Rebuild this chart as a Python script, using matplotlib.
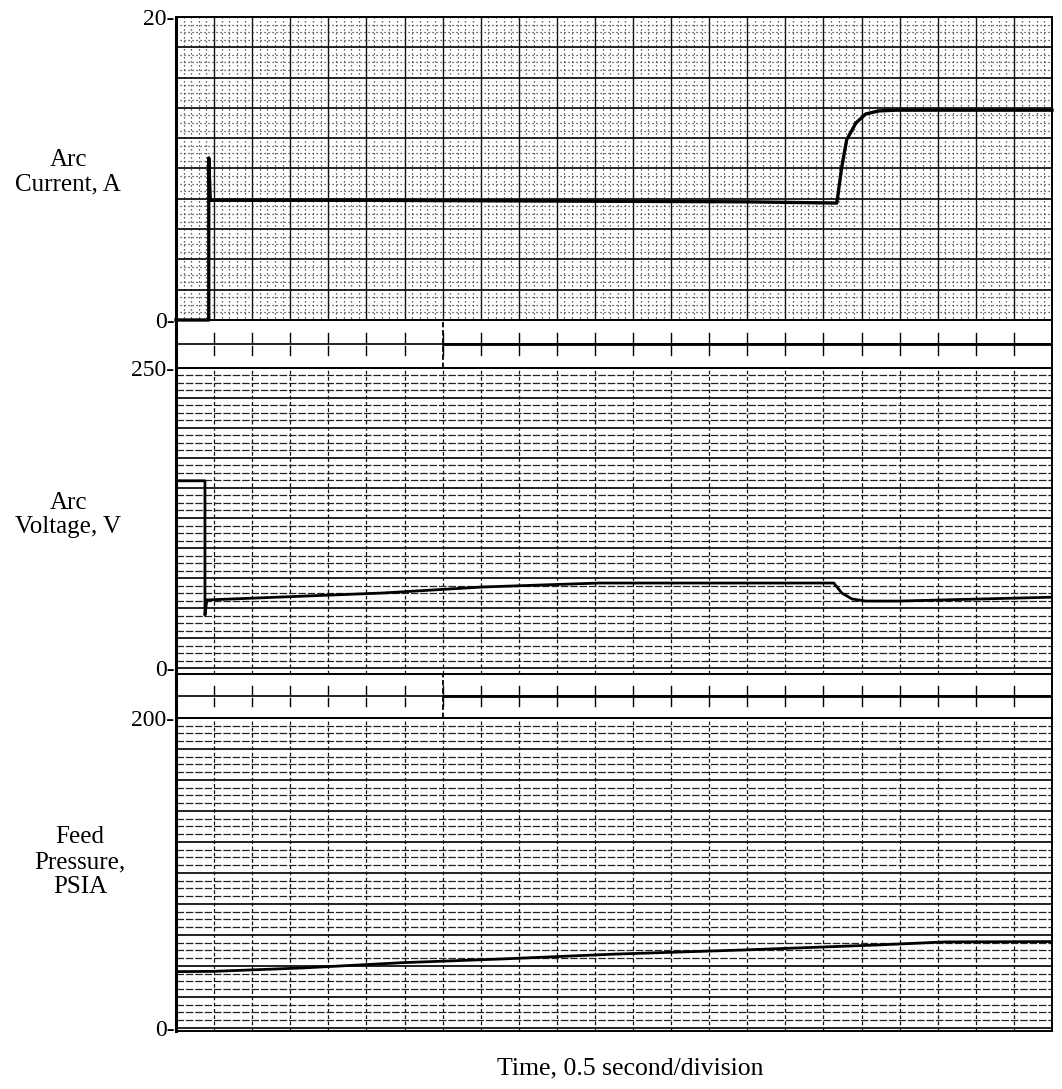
import numpy as np
import matplotlib
matplotlib.use('Agg')
import matplotlib.pyplot as plt

# trace data, time in chart divisions (0.5 s each)
cur_t = [0, 0.86, 0.86, 0.90, 5.0, 10.0, 15.0, 17.35, 17.48, 17.61, 17.85, 18.11, 18.45, 18.9, 23]
cur_a = [0, 0, 10.7, 7.9, 7.9, 7.85, 7.8, 7.72, 10.1, 11.9, 13.0, 13.6, 13.8, 13.85, 13.85]

volt_t = [0, 0.76, 0.76, 0.81, 5.43, 8.05, 11.11, 17.27, 17.48, 17.75, 18.11, 18.98, 23]
volt_v = [156, 156, 44, 56.7, 62.5, 67.5, 70.8, 70.8, 62.5, 57.5, 55.8, 55.8, 59]

pres_t = [0, 1.0, 3.33, 5.95, 8.57, 11.5, 14.9, 18.4, 20.2, 23]
pres_p = [36.3, 36.5, 38.7, 42.1, 44.5, 47.6, 50.3, 53.5, 55.5, 55.7]

n_div = 23
mark_div = 7

W, H = 1062, 1089
X0, X1 = 176, 1052

plt.rcParams['font.family'] = ['Liberation Serif', 'DejaVu Serif']

fig = plt.figure(figsize=(W / 100, H / 100), dpi=100)


def px_axes(y_top, y_bot):
    return fig.add_axes([X0 / W, 1 - y_bot / H, (X1 - X0) / W, (y_bot - y_top) / H])


def chart_grid(ax, ytop, dotted):
    ax.set_xlim(0, n_div)
    step = ytop / 10
    for d in range(n_div + 1):
        if dotted:
            ax.axvline(d, color='#111111', lw=1.0, zorder=1)
        else:
            ax.axvline(d, color='#111111', lw=0.9, ls=(0, (3, 2)), zorder=1)
    if dotted:
        sub = np.arange(0, n_div, 0.2)
        sub = sub[np.abs(sub - np.round(sub)) > 1e-6]
        ax.vlines(sub, -step, ytop, color='#333333', lw=0.9, ls=(0, (1, 2.2)), zorder=1)
    for k in range(11):
        ax.axhline(k * step, color='#111111', lw=1.3, zorder=1)
    minors = np.arange(0, ytop, step / 4)
    minors = minors[np.abs(minors / step - np.round(minors / step)) > 1e-6]
    for m in minors:
        if dotted:
            ax.axhline(m, color='#333333', lw=0.9, ls=(0, (1, 2.2)), zorder=1)
        else:
            ax.axhline(m, color='#222222', lw=0.9, ls=(0, (6, 1.5)), zorder=1)
    ax.set_xticks([])
    ax.tick_params(axis='y', length=0, pad=1, labelsize=17)
    for s in ax.spines.values():
        s.set_linewidth(1.4)
    ax.spines['left'].set_linewidth(2.2)


def tick_strip(ax):
    ax.set_xlim(0, n_div)
    ax.set_ylim(0, 1)
    ax.axhline(0.5, color='k', lw=1.2)
    ax.plot([mark_div, n_div], [0.5, 0.5], color='k', lw=2.0)
    for d in range(1, n_div):
        ax.plot([d, d], [0.55, 0.72], color='k', lw=1.0)
        ax.plot([d, d], [0.28, 0.45], color='k', lw=1.0)
    ax.plot([mark_div, mark_div], [0.0, 1.0], color='k', lw=1.3, ls=(0, (3, 1.5)))
    ax.set_xticks([])
    ax.set_yticks([])
    ax.spines['top'].set_visible(False)
    ax.spines['bottom'].set_visible(False)
    ax.spines['left'].set_linewidth(2.2)
    ax.spines['right'].set_linewidth(1.4)
    ax.patch.set_alpha(0)


# arc current
ax1 = px_axes(17, 320)
chart_grid(ax1, 20, dotted=True)
ax1.set_ylim(0, 20)
ax1.set_yticks([0, 20], ['0-', '20-'])
ax1.plot(cur_t, cur_a, color='k', lw=2.4, clip_on=False, zorder=5)

# arc voltage
ax2 = px_axes(368, 674)
chart_grid(ax2, 250, dotted=False)
ax2.set_ylim(-5, 250)
ax2.set_yticks([0, 250], ['0-', '250-'])
ax2.plot(volt_t, volt_v, color='k', lw=2.0, zorder=5)

# feed pressure
ax3 = px_axes(718, 1031)
chart_grid(ax3, 200, dotted=False)
ax3.set_ylim(-2, 200)
ax3.set_yticks([0, 200], ['0-', '200-'])
ax3.plot(pres_t, pres_p, color='k', lw=2.0, zorder=5)

# event-marker strips between channels
tick_strip(px_axes(320, 368))
tick_strip(px_axes(674, 718))

fig.text(68 / W, 1 - 172 / H, 'Arc\nCurrent, A', ha='center', va='center',
         fontsize=18, linespacing=1.15)
fig.text(68 / W, 1 - 515 / H, 'Arc\nVoltage, V', ha='center', va='center',
         fontsize=18, linespacing=1.15)
fig.text(80 / W, 1 - 862 / H, 'Feed\nPressure,\nPSIA', ha='center', va='center',
         fontsize=18, linespacing=1.2)
fig.text(630 / W, 1 - 1068 / H, 'Time, 0.5 second/division', ha='center', va='center',
         fontsize=18.5)

fig.savefig('out.png', dpi=100)
